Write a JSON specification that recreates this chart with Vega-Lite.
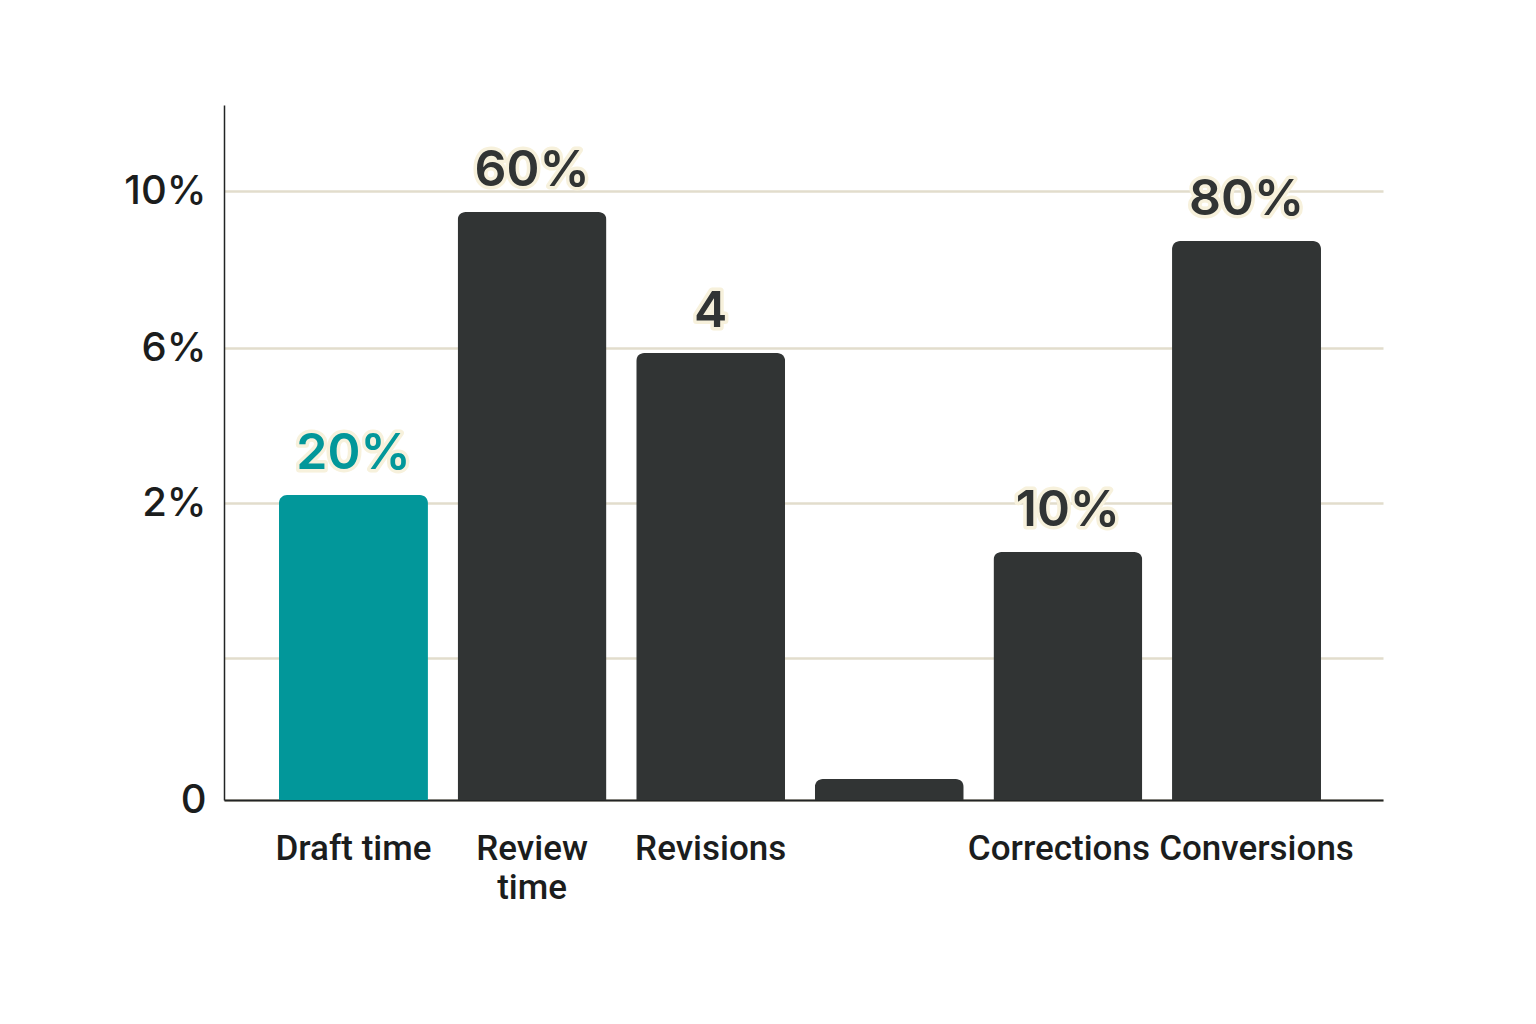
{
  "$schema": "https://vega.github.io/schema/vega-lite/v6.json",
  "width": 1159,
  "height": 695,
  "autosize": {"type": "none"},
  "padding": {"left": 224, "top": 105, "right": 153, "bottom": 224},
  "background": "white",
  "data": {
    "values": [
      {"category": "Draft time", "value": 305, "label": "20%"},
      {"category": "Review time", "value": 588, "label": "60%"},
      {"category": "Revisions", "value": 447, "label": "4"},
      {"category": "Other", "value": 21, "label": ""},
      {"category": "Corrections", "value": 248, "label": "10%"},
      {"category": "Conversions", "value": 559, "label": "80%"}
    ]
  },
  "config": {
    "view": {"stroke": null},
    "font": "Inter"
  },
  "encoding": {
    "x": {
      "field": "category",
      "type": "nominal",
      "sort": null,
      "title": null,
      "scale": {"paddingInner": 0.166, "paddingOuter": 0.3275, "align": 0.47},
      "axis": {
        "labelAngle": 0,
        "labelExpr": "datum.value == 'Review time' ? ['Review', 'time'] : datum.value == 'Other' ? '' : datum.value",
        "labelFont": "Roboto",
        "labelFontSize": 35,
        "labelFontWeight": 500,
        "labelColor": "#1b1d1d",
        "labelLineHeight": 39,
        "labelPadding": 31,
        "labelLimit": 400,
        "labelBaseline": "top",
        "labelOffset": {"expr": "datum.value == 'Corrections' ? -9 : datum.value == 'Conversions' ? 10 : 0"},
        "ticks": false,
        "domainColor": "#222424",
        "domainWidth": 2
      }
    },
    "y": {
      "field": "value",
      "type": "quantitative",
      "title": null,
      "scale": {"domain": [0, 695], "nice": false},
      "axis": {
        "values": [0, 142, 297, 452, 609],
        "labelExpr": "datum.value == 0 ? '0' : datum.value == 297 ? '2%' : datum.value == 452 ? '6%' : datum.value == 609 ? '10%' : ''",
        "labelFont": "Inter",
        "labelFontSize": 40,
        "labelFontWeight": 500,
        "labelColor": "#1b1d1d",
        "labelPadding": 18,
        "ticks": false,
        "domainColor": "#222424",
        "domainWidth": 1.5,
        "grid": true,
        "gridColor": "#e2ddcc",
        "gridWidth": 2.5
      }
    }
  },
  "layer": [
    {
      "mark": {"type": "bar", "cornerRadiusTopLeft": 8, "cornerRadiusTopRight": 8},
      "encoding": {
        "color": {
          "field": "category",
          "type": "nominal",
          "sort": null,
          "legend": null,
          "scale": {
            "domain": ["Draft time", "Review time", "Revisions", "Other", "Corrections", "Conversions"],
            "range": ["#02979a", "#313434", "#313434", "#313434", "#313434", "#313434"]
          }
        }
      }
    },
    {
      "mark": {
        "type": "text",
        "font": "Inter",
        "fontSize": 50,
        "fontWeight": 600,
        "baseline": "alphabetic",
        "dy": -26,
        "stroke": "#f7f1dc",
        "strokeWidth": 7,
        "strokeJoin": "round",
        "fill": "#f7f1dc"
      },
      "encoding": {"text": {"field": "label"}}
    },
    {
      "mark": {
        "type": "text",
        "font": "Inter",
        "fontSize": 50,
        "fontWeight": 600,
        "baseline": "alphabetic",
        "dy": -26
      },
      "encoding": {
        "text": {"field": "label"},
        "color": {
          "field": "category",
          "type": "nominal",
          "sort": null,
          "legend": null,
          "scale": {
            "domain": ["Draft time", "Review time", "Revisions", "Other", "Corrections", "Conversions"],
            "range": ["#0f8f92", "#1e2020", "#1e2020", "#1e2020", "#1e2020", "#1e2020"]
          }
        }
      }
    }
  ]
}
